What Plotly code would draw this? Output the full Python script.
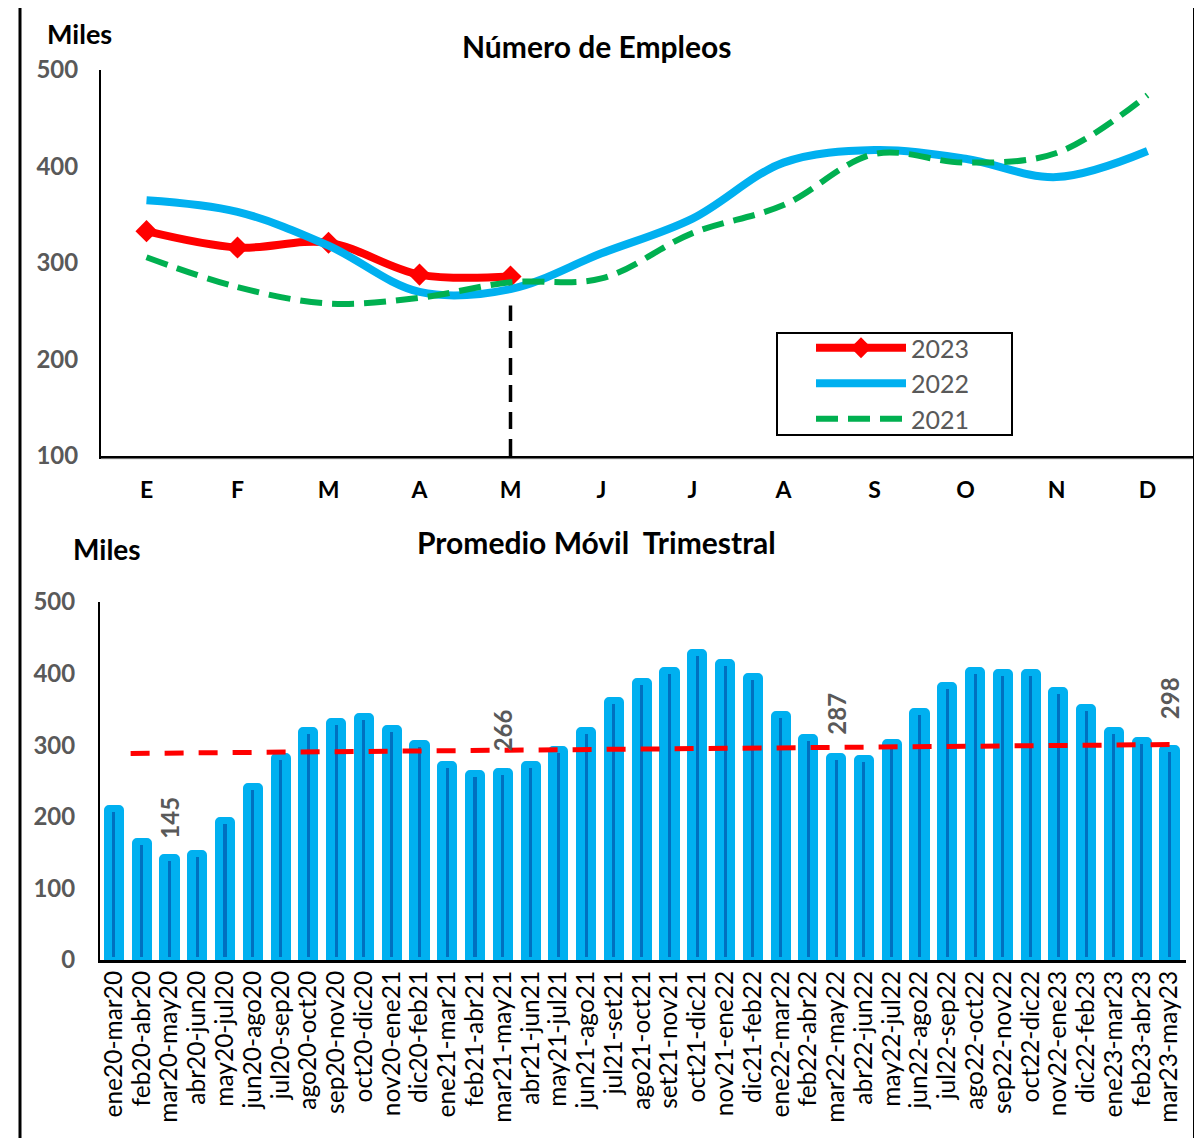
import plotly.graph_objects as go

W, H = 1202, 1138
OX, OY = 8, 8  # page offset of the plot div (browser body margin)


def px(x):
    return (x - OX) / W


def py(y):
    return 1 - (y - OY) / H


FONT = "Lato"
GRAY = "#595959"

# ---------------- data: top chart ----------------
months = ["E", "F", "M", "A", "M", "J", "J", "A", "S", "O", "N", "D"]
emp_2023 = [333, 316, 321, 288, 286]
emp_2022 = [365, 353, 318, 270, 273, 310, 346, 404, 417, 408, 389, 416]
emp_2021 = [306, 275, 258, 264, 280, 284, 331, 360, 413, 404, 414, 474]
cutoff_top = 256  # top of vertical dashed marker line (Miles)

# ---------------- data: bottom chart ----------------
periods = [
    "ene20-mar20", "feb20-abr20", "mar20-may20", "abr20-jun20", "may20-jul20",
    "jun20-ago20", "jul20-sep20", "ago20-oct20", "sep20-nov20", "oct20-dic20",
    "nov20-ene21", "dic20-feb21", "ene21-mar21", "feb21-abr21", "mar21-may21",
    "abr21-jun21", "may21-jul21", "jun21-ago21", "jul21-set21", "ago21-oct21",
    "set21-nov21", "oct21-dic21", "nov21-ene22", "dic21-feb22", "ene22-mar22",
    "feb22-abr22", "mar22-may22", "abr22-jun22", "may22-jul22", "jun22-ago22",
    "jul22-sep22", "ago22-oct22", "sep22-nov22", "oct22-dic22", "nov22-ene23",
    "dic22-feb23", "ene23-mar23", "feb23-abr23", "mar23-may23",
]
moving_avg = [214, 168, 145, 151, 197, 244, 287, 322, 335, 342,
              326, 305, 275, 263, 266, 275, 296, 322, 365, 391,
              407, 431, 417, 398, 345, 313, 287, 283, 306, 349,
              385, 407, 404, 404, 378, 355, 322, 309, 298]
labeled_idx = [2, 14, 26, 38]
trend_x = [0.6, 38.2]
trend_y = [288.5, 301]

INNER_TOP_GAP = 7    # style: dark core of each bar stops below the top
INNER_BASE = 4

fig = go.Figure()

# ---------- top chart ----------
xm = list(range(len(months)))
fig.add_trace(go.Scatter(
    x=xm[:len(emp_2023)], y=emp_2023, name="2023", mode="lines+markers",
    line=dict(color="#FF0000", width=8, shape="spline"),
    marker=dict(symbol="diamond", size=17, color="#FF0000"),
    xaxis="x", yaxis="y"))
fig.add_trace(go.Scatter(
    x=xm, y=emp_2022, name="2022", mode="lines",
    line=dict(color="#00B0F0", width=8, shape="spline"),
    xaxis="x", yaxis="y"))
fig.add_trace(go.Scatter(
    x=xm, y=emp_2021, name="2021", mode="lines",
    line=dict(color="#00B050", width=6, shape="spline", dash="22px,10px"),
    xaxis="x", yaxis="y"))
last = len(emp_2023) - 1
fig.add_trace(go.Scatter(
    x=[xm[last], xm[last]], y=[100, cutoff_top], mode="lines",
    line=dict(color="black", width=3.5, dash="17px,10px"),
    showlegend=False, hoverinfo="skip", xaxis="x", yaxis="y"))

# ---------- bottom chart ----------
fig.add_trace(go.Bar(
    x=periods, y=moving_avg, width=0.58,
    marker=dict(color="#00B0F0", cornerradius=3, line=dict(width=4, color="#00B0F0")),
    showlegend=False, xaxis="x2", yaxis="y2"))
fig.add_trace(go.Bar(
    x=periods, y=[v - INNER_TOP_GAP - INNER_BASE for v in moving_avg],
    base=INNER_BASE, width=0.11,
    marker=dict(color="#0070C0", line=dict(width=0)),
    showlegend=False, hoverinfo="skip", xaxis="x2", yaxis="y2"))
fig.add_trace(go.Scatter(
    x=trend_x, y=trend_y, mode="lines",
    line=dict(color="#FF0000", width=5, dash="19px,15px"),
    showlegend=False, hoverinfo="skip", xaxis="x3", yaxis="y2"))


def label(text, x, y, size):
    return dict(text=text, x=px(x), y=py(y), xref="paper", yref="paper",
                xanchor="center", yanchor="middle", showarrow=False,
                font=dict(family=FONT, size=size, color="black"))


annotations = [
    label("<b>Miles</b>", 79, 33, 27),
    label("<b>Número de Empleos</b>", 597, 46, 30),
    label("<b>Miles</b>", 107, 549, 28),
    label("<b>Promedio Móvil\u00a0 Trimestral</b>", 596, 542, 30),
]
label_shift = {2: 16, 14: 16, 26: 18, 38: 25}
for i in labeled_idx:
    annotations.append(dict(
        text="<b>%d</b>" % moving_avg[i], x=periods[i], y=moving_avg[i],
        xref="x2", yref="y2", textangle=-90, xanchor="center", yanchor="bottom",
        yshift=label_shift[i], showarrow=False,
        font=dict(family=FONT, size=24, color=GRAY)))

shapes = [
    dict(type="line", xref="paper", yref="paper", x0=px(20), x1=px(20), y0=py(5), y1=py(1150),
         line=dict(color="black", width=3)),
    dict(type="line", xref="paper", yref="paper", x0=px(19), x1=px(1195), y0=py(5), y1=py(5),
         line=dict(color="black", width=3.5)),
    dict(type="line", xref="paper", yref="paper", x0=px(1195), x1=px(1195), y0=py(4), y1=py(1150),
         line=dict(color="black", width=4)),
    dict(type="rect", xref="paper", yref="paper", x0=px(777), x1=px(1012), y0=py(333), y1=py(435),
         line=dict(color="black", width=2)),
    dict(type="line", xref="paper", yref="paper", x0=px(101), x1=px(1193), y0=py(459), y1=py(459),
         line=dict(color="#D9D9D9", width=1)),
]

fig.update_layout(
    width=W, height=H, margin=dict(l=0, r=0, t=0, b=0, autoexpand=False),
    paper_bgcolor="white", plot_bgcolor="white",
    barmode="overlay", bargap=0,
    font=dict(family=FONT, color="black"),
    xaxis=dict(domain=[px(101), px(1193)], range=[-0.5, 11.5],
               tickvals=xm, ticktext=["<b>%s</b>" % m for m in months],
               tickfont=dict(family=FONT, size=23, color="black"),
               showline=True, linecolor="black", linewidth=3, showgrid=False,
               zeroline=False, ticks="", ticklabelstandoff=11, anchor="y",
               automargin=False),
    yaxis=dict(domain=[py(456), py(70)], range=[100, 500], tickvals=[100, 200, 300, 400, 500],
               ticktext=["<b>%d</b>" % v for v in [100, 200, 300, 400, 500]],
               tickfont=dict(family=FONT, size=24, color=GRAY),
               showline=True, linecolor="black", linewidth=2, showgrid=False,
               zeroline=False, ticks="", ticklabelstandoff=16, anchor="x",
               automargin=False),
    xaxis2=dict(domain=[px(100), px(1186)], type="category",
                tickmode="array", tickvals=periods, ticktext=periods,
                tickfont=dict(family=FONT, size=24.5, color="black"), tickangle=-90,
                showline=True, linecolor="black", linewidth=3, showgrid=False,
                zeroline=False, ticks="", ticklabelstandoff=-2, anchor="y2",
                automargin=False),
    xaxis3=dict(overlaying="x2", range=[-0.5, len(periods) - 0.5], visible=False,
                anchor="y2", automargin=False),
    yaxis2=dict(domain=[py(960), py(602)], range=[0, 500], tickvals=[0, 100, 200, 300, 400, 500],
                ticktext=["<b>%d</b>" % v for v in [0, 100, 200, 300, 400, 500]],
                tickfont=dict(family=FONT, size=24, color=GRAY),
                showline=True, linecolor="black", linewidth=2, showgrid=False,
                zeroline=False, ticks="", ticklabelstandoff=18, anchor="x2",
                automargin=False),
    legend=dict(x=px(811), y=py(325), xanchor="left", yanchor="top",
                bgcolor="rgba(0,0,0,0)", borderwidth=0, itemwidth=90,
                font=dict(family=FONT, size=25, color=GRAY)),
    annotations=annotations, shapes=shapes,
)

fig.write_html("out.html")
